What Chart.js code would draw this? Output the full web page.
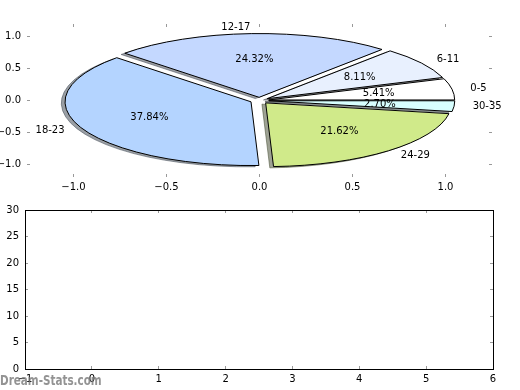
<!DOCTYPE html>
<html>
<head>
<meta charset="utf-8">
<script src="https://cdn.jsdelivr.net/npm/chart.js@4.4.1/dist/chart.umd.min.js"></script>
<style>
  body { margin: 0; background: #fff; }
  #wrap { position: relative; width: 520px; height: 390px; }
  canvas { position: absolute; left: 0; }
  #top { top: 0; }
  #bottom { top: 195px; }
  #mark { position: absolute; left: 0; top: 371px; font: bold 13.5px "DejaVu Sans"; line-height: 18px;
          color: rgba(120,120,120,0.8); transform: scaleX(0.77); transform-origin: 0 0; white-space: nowrap; }
</style>
</head>
<body>
<div id="wrap">
  <canvas id="top" width="520" height="195"></canvas>
  <canvas id="bottom" width="520" height="195"></canvas>
  <div id="mark">Dream-Stats.com</div>
</div>
<script>
// pie data
const ageGroups = ['0-5', '6-11', '12-17', '18-23', '24-29', '30-35'];
const counts = [2, 3, 9, 14, 8, 1];
const explode = [0.05, 0.05, 0.05, 0.05, 0.05, 0.05];
const sliceColors = ['#ffffff', '#e8f0fe', '#c4d8ff', '#b4d4ff', '#d0ea8a', '#d8ffff'];

// tick values
const pieXTicks = [-1.0, -0.5, 0.0, 0.5, 1.0];
const pieYTicks = [-1.0, -0.5, 0.0, 0.5, 1.0];
const lowXTicks = [-1, 0, 1, 2, 3, 4, 5, 6];
const lowYTicks = [0, 5, 10, 15, 20, 25, 30];

const FONT = 'DejaVu Sans';
Chart.defaults.font.family = FONT;
Chart.defaults.font.size = 10;
Chart.defaults.color = '#000';
Chart.defaults.animation = false;

const minus = s => String(s).replace('-', '\u2212');

function axis(pos, min, max, ticks, size, opts) {
  opts = opts || {};
  return {
    type: 'linear', position: pos, min: min, max: max,
    afterBuildTicks: s => { s.ticks = ticks.map(v => ({ value: v })); },
    afterFit: s => { if (pos === 'left' || pos === 'right') s.width = size; else s.height = size; },
    grid: { drawOnChartArea: false, drawTicks: true, tickLength: -3, color: '#999', lineWidth: 1 },
    border: { display: !!opts.frame, color: '#000', width: 1 },
    ticks: {
      display: !opts.hide, padding: opts.pad || 9, maxRotation: 0, autoSkip: false,
      callback: opts.fmt || (v => v)
    }
  };
}

// draws the exploded pie on the x / y scales, with matplotlib-like shadows
const piePlugin = {
  id: 'pie',
  afterDatasetsDraw(chart) {
    const ctx = chart.ctx, xs = chart.scales.x, ys = chart.scales.y;
    const total = counts.reduce((a, b) => a + b, 0);
    const rx = xs.getPixelForValue(1) - xs.getPixelForValue(0);
    const ry = ys.getPixelForValue(0) - ys.getPixelForValue(1);
    let slices = [], a = 0;
    counts.forEach((c, i) => {
      const a1 = a + c / total * 2 * Math.PI;
      const mid = (a + a1) / 2;
      slices.push({ i: i, a0: a, a1: a1, mid: mid,
        ex: explode[i] * Math.cos(mid), ey: explode[i] * Math.sin(mid) });
      a = a1;
    });
    const wedge = (s, dx, dy) => {
      const cx = xs.getPixelForValue(s.ex + dx), cy = ys.getPixelForValue(s.ey + dy);
      ctx.beginPath();
      ctx.moveTo(cx, cy);
      ctx.ellipse(cx, cy, rx, ry, 0, -s.a0, -s.a1, true);
      ctx.closePath();
    };
    ctx.save();
    ctx.lineJoin = 'miter';
    // shadows
    slices.forEach(s => {
      const h = sliceColors[s.i];
      const r = parseInt(h.slice(1, 3), 16) * 0.3, g = parseInt(h.slice(3, 5), 16) * 0.3, b = parseInt(h.slice(5, 7), 16) * 0.3;
      const col = `rgba(${r | 0},${g | 0},${b | 0},0.5)`;
      wedge(s, -0.02, -0.02);
      ctx.fillStyle = col; ctx.strokeStyle = col; ctx.lineWidth = 1;
      ctx.fill(); ctx.stroke();
    });
    // wedges
    slices.forEach(s => {
      wedge(s, 0, 0);
      ctx.fillStyle = sliceColors[s.i]; ctx.fill();
      ctx.strokeStyle = '#000'; ctx.lineWidth = 1; ctx.stroke();
    });
    // labels
    ctx.fillStyle = '#000';
    ctx.font = '10px "' + FONT + '"';
    ctx.textBaseline = 'middle';
    slices.forEach(s => {
      const lx = s.ex + 1.1 * Math.cos(s.mid), ly = s.ey + 1.1 * Math.sin(s.mid);
      ctx.textAlign = lx > 0 ? 'left' : 'right';
      ctx.fillText(ageGroups[s.i], xs.getPixelForValue(lx), ys.getPixelForValue(ly));
      const px = s.ex + 0.6 * Math.cos(s.mid), py = s.ey + 0.6 * Math.sin(s.mid);
      ctx.textAlign = 'center';
      const pct = (counts[s.i] / total * 100).toFixed(2) + '%';
      ctx.fillText(pct, xs.getPixelForValue(px), ys.getPixelForValue(py));
    });
    ctx.restore();
  }
};

const fmt1 = v => minus(Number(v).toFixed(1));

new Chart(document.getElementById('top'), {
  type: 'scatter',
  data: { datasets: [{ data: [], xAxisID: 'x', yAxisID: 'y' }] },
  options: {
    responsive: false,
    layout: { padding: 0 },
    plugins: { legend: { display: false }, tooltip: { enabled: false } },
    scales: {
      x: axis('bottom', -1.25, 1.25, pieXTicks, 18, { fmt: fmt1, pad: 7 }),
      x2: axis('top', -1.25, 1.25, pieXTicks, 24, { hide: true }),
      y: axis('left', -1.2, 1.2, pieYTicks, 27, { fmt: fmt1 }),
      y2: axis('right', -1.2, 1.2, pieYTicks, 28, { hide: true })
    }
  },
  plugins: [piePlugin]
});

new Chart(document.getElementById('bottom'), {
  type: 'scatter',
  data: { datasets: [{ data: [], xAxisID: 'x', yAxisID: 'y' }] },
  options: {
    responsive: false,
    layout: { padding: 0 },
    plugins: { legend: { display: false }, tooltip: { enabled: false } },
    scales: {
      x: axis('bottom', -1, 6, lowXTicks, 21, { frame: true, pad: 7, fmt: v => minus(v) }),
      x2: axis('top', -1, 6, lowXTicks, 15, { frame: true, hide: true }),
      y: axis('left', 0, 30, lowYTicks, 25, { frame: true }),
      y2: axis('right', 0, 30, lowYTicks, 27, { frame: true, hide: true })
    }
  }
});
</script>
</body>
</html>
